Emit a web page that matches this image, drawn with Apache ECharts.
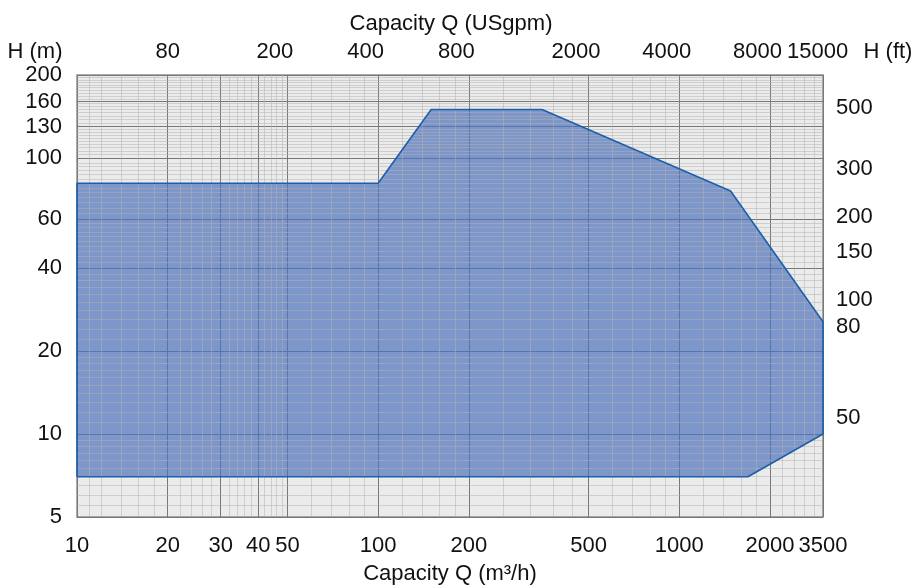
<!DOCTYPE html>
<html><head><meta charset="utf-8">
<script src="https://cdn.jsdelivr.net/npm/echarts@6/dist/echarts.min.js"></script>
<style>html,body{margin:0;padding:0;background:#fff}#c{width:913px;height:588px}</style>
</head><body><div id="c"></div>
<script>
// ---- data (capacity Q in m³/h, head H in m) ----
const qMin = 10, qMax = 3000;      // plotted x range (m³/h)
const hMin = 5, hMax = 200;        // plotted y range (m)
const bottomTickValues = [10, 20, 30, 40, 50, 100, 200, 500, 1000, 2000, 3000];
const bottomTickLabels = ['10', '20', '30', '40', '50', '100', '200', '500', '1000', '2000', '3500'];
const topTickValues = [20, 45.4, 90.8, 181.7, 454, 908, 1817, 2880];   // positions in m³/h
const topTickLabels = ['80', '200', '400', '800', '2000', '4000', '8000', '15000'];  // USgpm
const leftTickValues = [5, 10, 20, 40, 60, 100, 130, 160, 200];
const leftTickLabels = ['5', '10', '20', '40', '60', '100', '130', '160', '200'];
const rightTickValues = [152.4, 91.4, 61, 45.7, 30.5, 24.4, 11.4];   // positions in m
const rightTickLabels = ['500', '300', '200', '150', '100', '80', '50'];   // ft
const envelopeQ = [10, 10, 100, 150, 350, 1480, 3000, 3000, 1690, 10];
const envelopeH = [7, 81, 81, 150, 150, 76, 25.5, 10, 7, 7];
// grid minor lines
const xMinorLines = [11, 12, 14, 16, 18, 22, 24, 26, 28, 32, 34, 36, 38, 42, 44, 46, 48,
  60, 70, 80, 90, 120, 140, 160, 180, 260, 320, 380, 440, 600, 700, 800, 900,
  1200, 1400, 1600, 1800, 2200, 2400, 2600, 2800];
const yMinorLines = [5.5, 6, 6.5, 7, 7.5, 8, 8.5, 9, 9.5,
  11, 12, 13, 14, 15, 16, 17, 18, 19,
  22, 24, 26, 28, 30, 32, 34, 36, 38,
  42, 44, 46, 48, 50, 52, 54, 56, 58,
  63, 66, 69, 72, 75, 78, 81, 84, 87, 90, 93, 96,
  103, 106, 109, 112, 115, 118, 121, 124, 127,
  134, 138, 142, 146, 150, 154, 158,
  164, 168, 172, 176, 180, 184, 188, 192, 196];

// ---- helpers ----
const L = v => Math.log10(v);
function makeFmt(values, labels) {
  const m = {};
  values.forEach((v, i) => { m[L(v).toFixed(6)] = labels[i]; });
  return v => { const t = m[(+v).toFixed(6)]; return t == null ? '' : t; };
}
const FONT = '"Liberation Sans", Arial, Helvetica, sans-serif';
const TXT = '#111111';
const DARK = '#777777';
const LIGHT = 'rgba(178,178,178,0.5)';

const envelope = envelopeQ.map((q, i) => [L(q), L(envelopeH[i])]);

function labelStyle(extra) {
  return Object.assign({ fontSize: 22, color: TXT, fontFamily: FONT,
    showMinLabel: true, showMaxLabel: true, hideOverlap: false }, extra);
}

const chart = echarts.init(document.getElementById('c'), null, { renderer: 'canvas' });
chart.setOption({
  animation: false,
  backgroundColor: '#ffffff',
  grid: { left: 77, top: 75, width: 746, height: 442, show: true,
    backgroundColor: '#ebebeb', borderColor: '#8f8f8f', borderWidth: 1.5,
    containLabel: false, outerBoundsMode: 'none' },
  xAxis: [
    { type: 'value', position: 'bottom', min: L(qMin), max: L(qMax), z: 0,
      axisLine: { show: false, onZero: false },
      axisTick: { show: false, customValues: bottomTickValues.map(L) },
      axisLabel: labelStyle({ customValues: bottomTickValues.map(L),
        formatter: makeFmt(bottomTickValues, bottomTickLabels), margin: 18 }),
      splitLine: { show: true, lineStyle: { color: DARK, width: 1 } } },
    { type: 'value', position: 'top', min: L(qMin), max: L(qMax), z: 0,
      axisLine: { show: false, onZero: false },
      axisTick: { show: false, customValues: topTickValues.map(L) },
      axisLabel: labelStyle({ customValues: topTickValues.map(L),
        formatter: makeFmt(topTickValues, topTickLabels), margin: 12 }),
      splitLine: { show: false } },
    { type: 'value', position: 'bottom', min: L(qMin), max: L(qMax), z: 3,
      axisLine: { show: false, onZero: false },
      axisTick: { show: false, customValues: xMinorLines.map(L) },
      axisLabel: { show: false },
      splitLine: { show: true, lineStyle: { color: LIGHT, width: 1 } } }
  ],
  yAxis: [
    { type: 'value', position: 'left', min: L(hMin), max: L(hMax), z: 0,
      axisLine: { show: false, onZero: false },
      axisTick: { show: false, customValues: leftTickValues.map(L) },
      axisLabel: labelStyle({ customValues: leftTickValues.map(L),
        formatter: makeFmt(leftTickValues, leftTickLabels), margin: 15, padding: [3, 0, 0, 0] }),
      splitLine: { show: true, lineStyle: { color: DARK, width: 1 } } },
    { type: 'value', position: 'right', min: L(hMin), max: L(hMax), z: 0,
      axisLine: { show: false, onZero: false },
      axisTick: { show: false, customValues: rightTickValues.map(L) },
      axisLabel: labelStyle({ customValues: rightTickValues.map(L),
        formatter: makeFmt(rightTickValues, rightTickLabels), margin: 13 }),
      splitLine: { show: false } },
    { type: 'value', position: 'left', min: L(hMin), max: L(hMax), z: 3,
      axisLine: { show: false, onZero: false },
      axisTick: { show: false, customValues: yMinorLines.map(L) },
      axisLabel: { show: false },
      splitLine: { show: true, lineStyle: { color: LIGHT, width: 1 } } }
  ],
  series: [
    { type: 'custom', coordinateSystem: 'cartesian2d', xAxisIndex: 0, yAxisIndex: 0,
      z: 2, silent: true, data: envelope, encode: { x: 0, y: 1 },
      renderItem: function (params, api) {
        if (params.dataIndex !== 0) return null;
        const pts = envelope.map(p => api.coord(p));
        return { type: 'polygon', shape: { points: pts },
          style: { fill: 'rgba(80,116,188,0.7)', stroke: null } };
      } },
    { type: 'line', xAxisIndex: 0, yAxisIndex: 0, z: 4, data: envelope,
      symbol: 'none', clip: false, silent: true,
      lineStyle: { color: '#1c5fab', width: 1.6 } }
  ],
  graphic: [
    { type: 'text', x: 451, y: 24, silent: true,
      style: { text: 'Capacity Q (USgpm)', fontSize: 22, fontFamily: FONT, fill: TXT, align: 'center', verticalAlign: 'middle' } },
    { type: 'text', x: 450, y: 574, silent: true,
      style: { text: 'Capacity Q (m³/h)', fontSize: 22, fontFamily: FONT, fill: TXT, align: 'center', verticalAlign: 'middle' } },
    { type: 'text', x: 35, y: 52, silent: true,
      style: { text: 'H (m)', fontSize: 22, fontFamily: FONT, fill: TXT, align: 'center', verticalAlign: 'middle' } },
    { type: 'text', x: 888, y: 52, silent: true,
      style: { text: 'H (ft)', fontSize: 22, fontFamily: FONT, fill: TXT, align: 'center', verticalAlign: 'middle' } }
  ]
});
</script></body></html>
